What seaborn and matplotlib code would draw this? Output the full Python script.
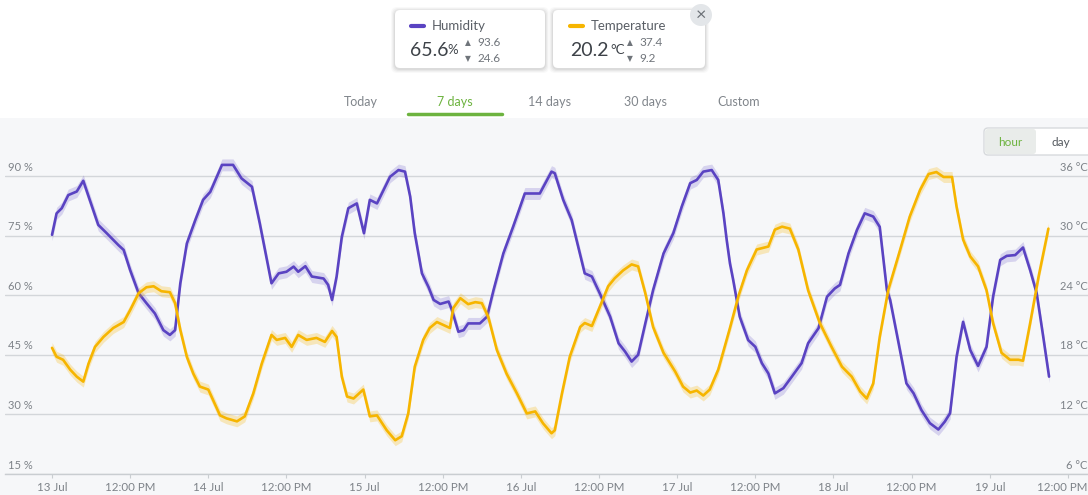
import matplotlib
matplotlib.use("Agg")
import matplotlib.pyplot as plt
import matplotlib.transforms as mtransforms
import seaborn as sns
import pandas as pd
from matplotlib.patches import FancyBboxPatch, Rectangle, Circle
from matplotlib.lines import Line2D

# ---------------- data ----------------
hum_hours = [0, 0.7, 1.5, 2.5, 3.8, 4.8, 5.8, 7.1, 8.4, 10.2,
             11.0, 12.0, 13.3, 14.5, 15.8, 17.1, 18.1, 18.9, 19.7, 20.7,
             22.0, 23.2, 24.3, 26.1, 27.8, 29.1, 30.7, 31.9, 33.0, 33.7,
             34.8, 36.0, 37.1, 37.8, 38.9, 39.9, 41.7, 42.4, 43.0, 43.7,
             44.5, 45.5, 46.8, 47.9, 48.8, 49.9, 51.9, 53.2, 54.2, 55.0,
             55.7, 56.8, 57.8, 58.6, 59.6, 60.9, 61.4, 62.4, 63.2, 63.9,
             65.7, 66.8, 67.8, 69.3, 70.8, 72.6, 74.9, 76.7, 77.2, 78.5,
             79.8, 80.8, 81.8, 82.9, 84.1, 85.7, 87.0, 88.0, 89.0, 90.0,
             91.1, 92.3, 93.9, 95.4, 96.7, 98.0, 99.0, 100.0, 101.3, 102.3,
             103.1, 103.6, 104.1, 104.6, 105.6, 106.9, 108.0, 109.0, 110.0, 111.0,
             112.3, 113.6, 115.1, 116.1, 117.7, 119.0, 120.2, 121.0, 122.3, 123.6,
             124.8, 126.1, 127.1, 128.2, 128.7, 130.0, 131.2, 132.3, 133.5, 134.8,
             136.1, 137.1, 137.9, 138.9, 139.9, 141.0, 142.2, 143.5, 144.5, 145.6,
             146.6, 147.9, 149.1, 150.2, 151.2, 152.2, 153.1]
hum_values = [75.2, 80.6, 81.9, 85.2, 86.1, 88.8, 84.0, 77.7, 75.6, 72.6,
              71.4, 66.3, 60.5, 58.0, 55.4, 51.2, 50.0, 51.2, 63.0, 73.0,
              78.9, 84.0, 86.0, 92.8, 92.8, 89.4, 87.3, 78.1, 68.9, 63.0,
              65.5, 65.9, 67.2, 65.9, 67.3, 64.7, 64.2, 62.6, 58.8, 64.7,
              74.7, 81.9, 83.1, 75.6, 84.0, 83.1, 89.8, 91.5, 91.1, 84.8,
              75.6, 65.5, 62.1, 58.8, 57.8, 58.4, 56.3, 50.8, 51.2, 52.9,
              52.9, 54.6, 61.3, 70.5, 77.2, 85.6, 85.6, 91.1, 90.7, 84.0,
              78.9, 72.2, 65.5, 64.7, 60.5, 54.6, 47.9, 45.8, 43.3, 45.0,
              52.9, 61.3, 70.5, 75.6, 82.3, 88.2, 89.0, 91.1, 91.5, 89.0,
              80.6, 73.9, 68.0, 63.8, 54.6, 48.7, 47.0, 42.9, 40.3, 35.3,
              36.6, 39.5, 42.9, 47.9, 51.7, 59.6, 61.7, 62.6, 70.5, 76.4,
              80.6, 79.8, 77.2, 61.3, 58.8, 47.9, 37.8, 35.3, 31.1, 27.8,
              26.2, 28.2, 30.3, 44.5, 53.3, 46.2, 42.2, 47.0, 59.6, 68.9,
              69.9, 70.1, 72.0, 66.3, 60.5, 49.6, 39.5]

temp_hours = [0, 0.7, 1.7, 2.8, 3.8, 4.8, 5.6, 6.6, 7.9, 9.4,
              11.0, 12.0, 13.3, 14.5, 15.6, 16.8, 18.1, 18.9, 19.7, 20.7,
              21.7, 22.7, 24.0, 25.8, 26.8, 28.4, 29.6, 30.9, 32.2, 33.7,
              34.5, 35.8, 36.8, 37.8, 39.1, 40.6, 41.9, 43.0, 43.7, 44.5,
              45.3, 46.3, 47.8, 48.8, 49.9, 51.4, 52.7, 53.7, 54.7, 55.7,
              57.0, 58.0, 59.1, 60.1, 61.1, 61.6, 62.7, 63.9, 65.0, 66.0,
              67.0, 68.3, 69.8, 71.4, 72.9, 74.2, 75.4, 76.7, 77.2, 78.3,
              79.5, 81.1, 81.8, 82.9, 84.1, 85.4, 86.4, 87.7, 89.0, 90.0,
              91.1, 92.3, 93.9, 95.7, 96.9, 98.0, 99.0, 100.0, 101.0, 102.3,
              104.1, 105.4, 106.7, 108.2, 110.0, 111.0, 112.1, 113.3, 114.6, 116.1,
              117.9, 119.7, 121.3, 122.8, 124.1, 125.1, 126.1, 127.1, 128.4, 130.2,
              131.7, 133.3, 134.6, 135.8, 136.9, 138.2, 138.9, 139.9, 141.0, 142.2,
              143.5, 144.5, 145.8, 147.1, 148.4, 149.1, 150.2, 151.5, 153.0]
temp_values = [18.7, 17.8, 17.5, 16.5, 15.8, 15.3, 17.1, 18.8, 19.8, 20.7,
               21.3, 22.5, 24.2, 24.8, 24.9, 24.4, 24.3, 23.2, 20.5, 17.8,
               16.1, 14.8, 14.5, 11.9, 11.6, 11.3, 11.8, 14.1, 17.1, 20.0,
               19.5, 19.7, 18.8, 20.0, 19.5, 19.7, 19.3, 20.4, 19.8, 15.8,
               13.8, 13.6, 14.5, 11.8, 11.9, 10.4, 9.4, 9.8, 12.1, 16.8,
               19.5, 20.7, 21.3, 21.0, 20.7, 22.7, 23.7, 23.1, 23.3, 23.2,
               21.8, 18.5, 16.1, 14.1, 12.1, 12.3, 11.1, 10.1, 10.4, 14.1,
               17.8, 20.8, 21.2, 20.9, 22.8, 24.9, 25.7, 26.5, 27.1, 26.9,
               24.2, 20.8, 18.2, 16.3, 14.8, 14.2, 14.4, 13.9, 14.5, 16.5,
               20.7, 23.9, 26.5, 28.6, 28.9, 30.6, 30.9, 30.7, 28.6, 24.5,
               21.2, 18.8, 16.8, 15.8, 14.3, 13.6, 15.1, 19.8, 24.5, 28.5,
               31.9, 34.6, 36.2, 36.4, 35.9, 35.9, 32.9, 29.6, 27.9, 26.9,
               24.5, 21.2, 18.2, 17.5, 17.5, 17.4, 21.2, 25.9, 30.7]

tick_hours = [0, 12, 24, 36, 48, 60, 72, 84, 96, 108, 120, 132, 144, 156]
tick_labels = ["13 Jul", "12:00 PM", "14 Jul", "12:00 PM", "15 Jul", "12:00 PM",
               "16 Jul", "12:00 PM", "17 Jul", "12:00 PM", "18 Jul", "12:00 PM",
               "19 Jul", "12:00 PM"]
hum_ticks = [15, 30, 45, 60, 75, 90]
temp_ticks = [6, 12, 18, 24, 30, 36]
tabs = ["Today", "7 days", "14 days", "30 days", "Custom"]

# ---------------- style ----------------
sns.set_theme(style="white")
plt.rcParams['font.family'] = ['Lato', 'DejaVu Sans']

PURPLE = "#5a43c2"
AMBER = "#f6b500"
GREEN = "#6db33f"
GRAY_TXT = "#7d8288"
W, H = 1088, 495

def fx(px):
    return px / W

def fy(py):
    return 1 - py / H

fig = plt.figure(figsize=(W / 100, H / 100), dpi=100)
fig.patch.set_facecolor("white")
PIX = mtransforms.IdentityTransform()
fig.patches.append(Rectangle((0, 0), 1, fy(118), transform=fig.transFigure,
                             facecolor="#f6f7f9", edgecolor="none", zorder=-5))

ax = fig.add_axes([fx(5), fy(474), fx(1088) - fx(5), fy(118) - fy(474)])
ax.set_facecolor("none")
hum = pd.DataFrame({"hour": hum_hours, "value": hum_values})
tmp = pd.DataFrame({"hour": temp_hours, "value": temp_values})

ax.fill_between(hum["hour"], hum["value"] - 1.5, hum["value"] + 1.5,
                color=PURPLE, alpha=0.2, lw=0, zorder=2)
sns.lineplot(data=hum, x="hour", y="value", ax=ax, color=PURPLE, lw=1.9,
             zorder=4, estimator=None)

ax2 = ax.twinx()
ax2.fill_between(tmp["hour"], tmp["value"] - 0.55, tmp["value"] + 0.55,
                 color=AMBER, alpha=0.25, lw=0, zorder=2)
sns.lineplot(data=tmp, x="hour", y="value", ax=ax2, color=AMBER, lw=1.9,
             zorder=4, estimator=None)
for a in (ax, ax2):
    for ln in a.get_lines():
        ln.set_solid_joinstyle("round")
        ln.set_solid_capstyle("round")

xmin, xmax = -7.22, 159.08
for a in (ax, ax2):
    a.set_xlim(xmin, xmax)
    a.set_xlabel("")
    a.set_ylabel("")
    for s in ("top", "left", "right"):
        a.spines[s].set_visible(False)
    a.tick_params(axis="y", left=False, right=False, labelleft=False, labelright=False)
ax.set_ylim(15, 104.6)
ax2.set_ylim(6, 41.84)
ax2.spines["bottom"].set_visible(False)
ax.spines["bottom"].set_color("#c9cdd1")
ax.spines["bottom"].set_linewidth(1)

ax.set_yticks(hum_ticks)
ax2.set_yticks(temp_ticks)
ax.yaxis.grid(True, color="#d3d6da", lw=1)
ax.set_axisbelow(True)

ax.set_xticks(tick_hours)
ax.set_xticklabels(tick_labels)
ax.tick_params(axis="x", bottom=True, length=3, width=0.8, color="#c9cdd1",
               labelsize=8.3, labelcolor=GRAY_TXT, pad=3)
ax2.tick_params(axis="x", bottom=False, labelbottom=False)
last = ax.get_xticklabels()[-1]
last.set_transform(last.get_transform() + mtransforms.ScaledTranslation(-4 / 72, 0, fig.dpi_scale_trans))

ytr = ax.get_yaxis_transform()
for v in hum_ticks:
    ax.annotate(f"{v} %", xy=(0.003, v), xycoords=ytr, xytext=(0, 2.5),
                textcoords="offset points", fontsize=8, color=GRAY_TXT,
                ha="left", va="bottom")
ytr2 = ax2.get_yaxis_transform()
for v in temp_ticks:
    ax2.annotate(f"{v} °C", xy=(0.9995, v), xycoords=ytr2, xytext=(0, 2.5),
                 textcoords="offset points", fontsize=8, color=GRAY_TXT,
                 ha="right", va="bottom", annotation_clip=False)

# ---------------- header ----------------
def card(x0, x1, y0, y1):
    for d, al in [(4, 0.025), (3, 0.03), (2, 0.04), (1, 0.05)]:
        fig.patches.append(FancyBboxPatch((x0 - d, H - y1 - d - 1), x1 - x0 + 2 * d, y1 - y0 + 2 * d,
                                          boxstyle="round,pad=0,rounding_size=6",
                                          transform=PIX, facecolor="black",
                                          alpha=al, edgecolor="none", zorder=1))
    fig.patches.append(FancyBboxPatch((x0, H - y1), x1 - x0, y1 - y0,
                                      boxstyle="round,pad=0,rounding_size=5",
                                      transform=PIX, facecolor="white",
                                      edgecolor="none", zorder=2))

card(395, 545, 10, 68)
card(553, 705, 10, 68)

def txt(x, y, s, **kw):
    fig.text(fx(x), fy(y), s, zorder=10, **kw)

for x0, col, name in [(411, PURPLE, "Humidity"), (570, AMBER, "Temperature")]:
    fig.lines.append(Line2D([fx(x0), fx(x0 + 13)], [fy(26), fy(26)], color=col, lw=3,
                            solid_capstyle="round", transform=fig.transFigure, zorder=5))
    txt(x0 + 21, 26, name, fontsize=9.5, color="#5a5f66", va="center", ha="left")

txt(410, 51, "65.6", fontsize=14, color="#3d4248", va="center", ha="left")
txt(447, 50, "%", fontsize=9.5, color="#3d4248", va="center", ha="left")
txt(570, 51, "20.2", fontsize=14, color="#3d4248", va="center", ha="left")
txt(610, 50, "°C", fontsize=9.5, color="#3d4248", va="center", ha="left")
for x0, hi, lo in [(465, "93.6", "24.6"), (627, "37.4", "9.2")]:
    txt(x0, 43, "▲", fontsize=5.5, color="#6f747a", va="center", ha="left")
    txt(x0, 59, "▼", fontsize=5.5, color="#6f747a", va="center", ha="left")
    txt(x0 + 12, 43, hi, fontsize=8.5, color="#6f747a", va="center", ha="left")
    txt(x0 + 12, 59, lo, fontsize=8.5, color="#6f747a", va="center", ha="left")

fig.patches.append(Circle((701, H - 15), 11, transform=PIX,
                          facecolor="#e3e6e9", edgecolor="none", zorder=6))
txt(701, 15, "×", fontsize=13, color="#6a6f75", va="center", ha="center")

tab_x = [361, 455, 550, 645, 739]
for x0, t in zip(tab_x, tabs):
    txt(x0, 102, t, fontsize=9, color=GREEN if t == "7 days" else "#80858b",
        va="center", ha="center")
fig.lines.append(Line2D([fx(408), fx(502)], [fy(114), fy(114)], color=GREEN, lw=2.5,
                        transform=fig.transFigure, zorder=5))

# hour / day toggle
fig.patches.append(FancyBboxPatch((984, H - 155), 110, 27,
                                  boxstyle="round,pad=0,rounding_size=4",
                                  transform=PIX, facecolor="white",
                                  edgecolor="#d7dadd", lw=1, zorder=5))
fig.patches.append(FancyBboxPatch((985, H - 154), 51, 25,
                                  boxstyle="round,pad=0,rounding_size=3",
                                  transform=PIX, facecolor="#e9ecea",
                                  edgecolor="none", zorder=6))
txt(1010, 142, "hour", fontsize=8.5, color=GREEN, va="center", ha="center")
txt(1061, 142, "day", fontsize=8.5, color="#555a60", va="center", ha="center")

fig.savefig("out.png", dpi=100)
